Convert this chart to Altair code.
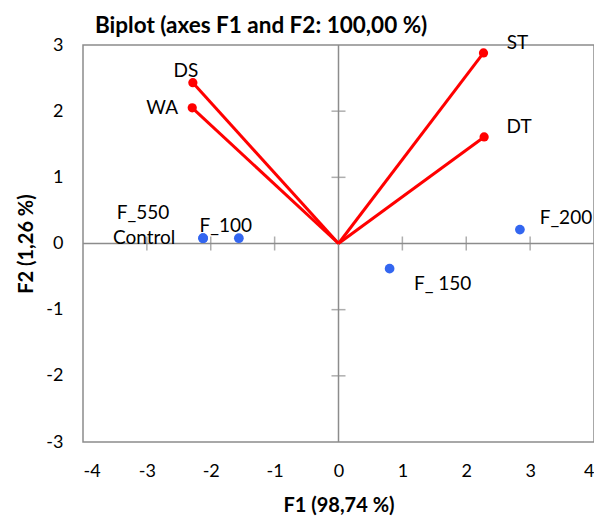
import altair as alt
import pandas as pd

# Variables (vectors)
var_names = ["ST", "DT", "DS", "WA"]
var_x = [2.27, 2.28, -2.28, -2.29]
var_y = [2.88, 1.61, 2.43, 2.05]

# Observations
obs_names = ["F_200", "F_ 150", "F_100", "Control", "F_550"]
obs_x = [2.84, 0.80, -1.56, -2.12, -2.12]
obs_y = [0.21, -0.38, 0.08, 0.08, 0.08]

x_ticks = [-4, -3, -2, -1, 0, 1, 2, 3, 4]
y_ticks = [-3, -2, -1, 0, 1, 2, 3]

FONT = "Lato"
GRAY = "#8c8c8c"

vars_df = pd.DataFrame({"name": var_names, "x": var_x, "y": var_y, "x0": 0, "y0": 0})
obs_df = pd.DataFrame({"name": obs_names, "x": obs_x, "y": obs_y})
xt_df = pd.DataFrame({"x": [v for v in x_ticks if v not in (-4, 0, 4)], "y": 0})
yt_df = pd.DataFrame({"y": [v for v in y_ticks if v not in (-3, 0, 3)], "x": 0})

xs = alt.Scale(domain=[-4, 4], nice=False, zero=False)
ys = alt.Scale(domain=[-3, 3], nice=False, zero=False)

xaxis = alt.Axis(values=x_ticks, grid=False, domain=False, ticks=False, labelExpr="'' + datum.value",
                 labelPadding=20, labelFontSize=18, labelFont=FONT, labelColor="black",
                 title="F1 (98,74 %)", titleFont=FONT, titleFontSize=20, titleFontWeight="bold",
                 titlePadding=15, titleColor="black")
yaxis = alt.Axis(values=y_ticks, grid=False, domain=False, ticks=False, labelExpr="'' + datum.value",
                 labelPadding=20, labelFontSize=18, labelFont=FONT, labelColor="black",
                 title="F2 (1,26 %)", titleFont=FONT, titleFontSize=20, titleFontWeight="bold",
                 titlePadding=9, titleColor="black")

base_axes = alt.Chart(pd.DataFrame({"x": [0], "y": [0]})).mark_point(opacity=0).encode(
    x=alt.X("x:Q", scale=xs, axis=xaxis),
    y=alt.Y("y:Q", scale=ys, axis=yaxis),
)

zero_v = alt.Chart(pd.DataFrame({"x": [0]})).mark_rule(color=GRAY, strokeWidth=1.5).encode(
    x=alt.X("x:Q", scale=xs))
zero_h = alt.Chart(pd.DataFrame({"y": [0]})).mark_rule(color=GRAY, strokeWidth=1.5).encode(
    y=alt.Y("y:Q", scale=ys))

xticks_m = alt.Chart(xt_df).mark_tick(orient="vertical", color=GRAY, size=14, thickness=1.5).encode(
    x=alt.X("x:Q", scale=xs), y=alt.Y("y:Q", scale=ys))
yticks_m = alt.Chart(yt_df).mark_tick(orient="horizontal", color=GRAY, size=14, thickness=1.5).encode(
    x=alt.X("x:Q", scale=xs), y=alt.Y("y:Q", scale=ys))

vec_lines = alt.Chart(vars_df).mark_rule(color="#ff0000", strokeWidth=3).encode(
    x=alt.X("x0:Q", scale=xs), y=alt.Y("y0:Q", scale=ys), x2="x:Q", y2="y:Q")
vec_pts = alt.Chart(vars_df).mark_circle(color="#ff0000", size=85, opacity=1).encode(
    x=alt.X("x:Q", scale=xs), y=alt.Y("y:Q", scale=ys))
obs_pts = alt.Chart(obs_df).mark_circle(color="#3366f0", size=95, opacity=1).encode(
    x=alt.X("x:Q", scale=xs), y=alt.Y("y:Q", scale=ys))

label_offsets = {
    "ST": (34, -10), "DT": (35, -10), "DS": (-7, -12), "WA": (-30, 0),
    "F_200": (46, -12), "F_ 150": (53, 15), "F_100": (-13, -12),
    "Control": (-59, 0), "F_550": (-60, -25),
}

labels = []
for df, names in ((vars_df, var_names), (obs_df, obs_names)):
    for n in names:
        dx, dy = label_offsets[n]
        labels.append(
            alt.Chart(df).transform_filter(alt.datum.name == n).mark_text(
                font=FONT, fontSize=19, color="black", dx=dx, dy=dy, align="center", baseline="middle"
            ).encode(x=alt.X("x:Q", scale=xs), y=alt.Y("y:Q", scale=ys), text="name:N")
        )

chart = alt.layer(base_axes, zero_v, zero_h, xticks_m, yticks_m, vec_lines, vec_pts, obs_pts, *labels).properties(
    width=511, height=397,
    title=alt.TitleParams("Biplot (axes F1 and F2: 100,00 %)", font=FONT, fontSize=22.5, fontWeight="bold",
                          anchor="start", frame="group", dx=12, offset=-4, color="black"),
    autosize=alt.AutoSizeParams(type="none"),
    padding={"left": 75, "top": 37, "right": 0, "bottom": 76},
).configure_view(stroke=GRAY, strokeWidth=1.5)

chart.save("out.html", embed_options={"renderer": "svg", "actions": False})
